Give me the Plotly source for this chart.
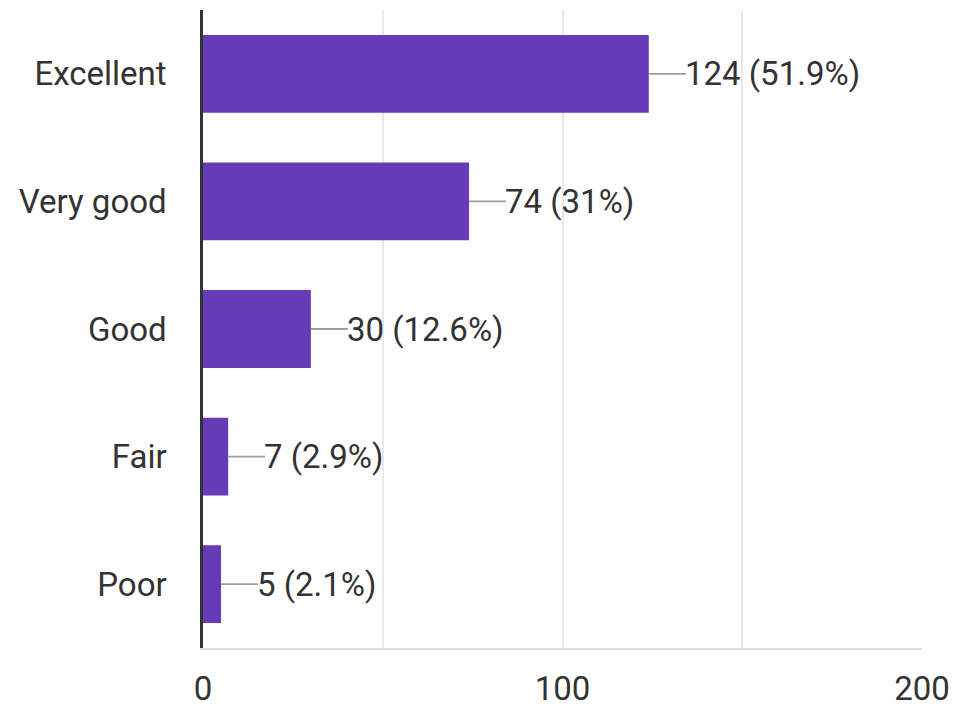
import plotly.graph_objects as go

categories = ["Excellent", "Very good", "Good", "Fair", "Poor"]
counts = [124, 74, 30, 7, 5]
percents = ["51.9", "31", "12.6", "2.9", "2.1"]
x_tick_vals = [0, 50, 100, 150, 200]
x_tick_text = ["0", "", "100", "", "200"]

BAR = "#673ab7"
TXT = "#333333"
FONT = "Roboto"
FS = 33
LEAD = 10.3  # leader length in data units

ypos = list(range(len(categories)))

fig = go.Figure()
fig.add_trace(go.Bar(
    x=counts, y=ypos, orientation="h",
    marker=dict(color=BAR, line=dict(width=0)),
    width=0.61, hoverinfo="skip",
))

for yi, c, p in zip(ypos, counts, percents):
    fig.add_shape(type="line", xref="x", yref="y",
                  x0=c, x1=c + LEAD, y0=yi, y1=yi,
                  line=dict(color="#9e9e9e", width=1.8), layer="above")
    fig.add_annotation(x=c + LEAD, y=yi, xref="x", yref="y",
                       text=f"{c} ({p}%)", showarrow=False,
                       xanchor="left", yanchor="middle", xshift=-3,
                       font=dict(family=FONT, size=FS, color=TXT))

# page body has an 8px margin, so margins are offset to compensate
fig.update_layout(
    width=957, height=709,
    margin=dict(l=195, r=43, t=2, b=69, autoexpand=False),
    paper_bgcolor="white", plot_bgcolor="white",
    showlegend=False,
    font=dict(family=FONT, size=FS, color=TXT),
)
fig.update_xaxes(
    range=[0, 200], tickvals=x_tick_vals, ticktext=x_tick_text,
    automargin=False,
    showgrid=True, gridcolor="#e8e8e8", gridwidth=1.5,
    zeroline=False,
    showline=True, linecolor="#e0e0e0", linewidth=1.5,
    ticks="outside", ticklen=11, tickcolor="rgba(0,0,0,0)",
    tickfont=dict(family=FONT, size=FS, color=TXT),
)
fig.update_yaxes(
    range=[len(categories) - 0.5, -0.5],
    tickvals=ypos, ticktext=categories,
    automargin=False,
    showgrid=False, zeroline=False,
    showline=True, linecolor="#333333", linewidth=2.5,
    ticks="outside", ticklen=27, tickcolor="rgba(0,0,0,0)",
    tickfont=dict(family=FONT, size=FS, color=TXT),
)

fig.write_html("out.html")
